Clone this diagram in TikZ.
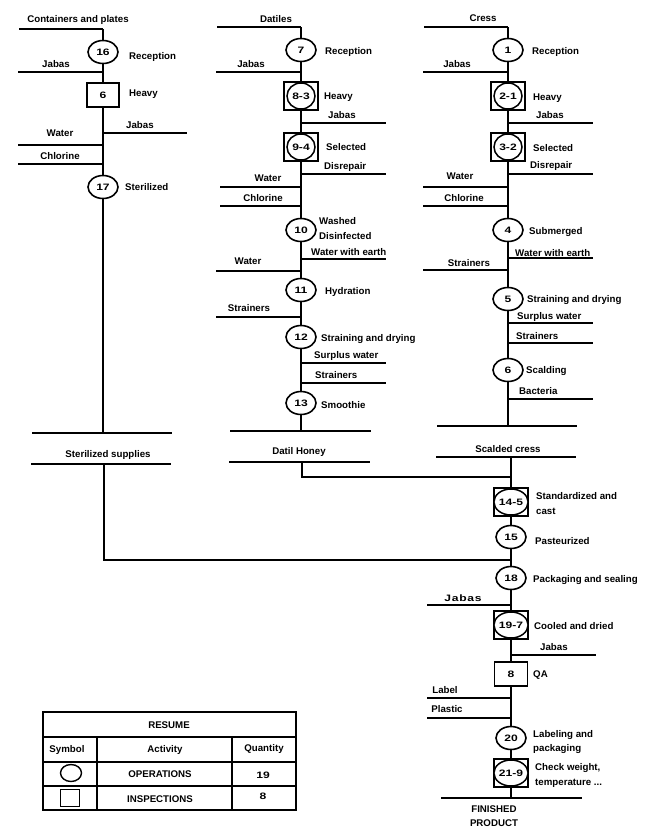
\documentclass[tikz,border=0pt]{standalone}
\usepackage{fontspec}
\setmainfont{Liberation Sans}
\newfontfamily\numfont[FakeStretch=1.3]{Liberation Sans}
\newfontfamily\widefont[FakeStretch=1.3,LetterSpace=8]{Liberation Sans}
\usetikzlibrary{shapes.geometric}
\newcommand\flowbr[4]{\coordinate (#1l) at (#2,#4); \coordinate (#1r) at (#3,#4); \draw[branch] (#1l) -- (#1r);}
\begin{document}
\begin{tikzpicture}[x=1pt,y=-1pt,
  font=\fontsize{9.7}{11}\selectfont\bfseries,
  spine/.style={line width=1.8pt},
  branch/.style={line width=1.4pt},
  nfont/.style={font=\fontsize{9.3}{10}\selectfont\numfont\bfseries},
  op/.style={ellipse,draw,line width=1.6pt,fill=white,minimum width=30pt,minimum height=23pt,inner sep=0pt,nfont},
  insp/.style={rectangle,draw,line width=1.6pt,fill=white,minimum width=32pt,minimum height=24pt,inner sep=0pt,nfont},
  combobox/.style={rectangle,draw,line width=1.6pt,fill=white,minimum width=34pt,minimum height=28pt,inner sep=0pt},
  comboell/.style={ellipse,draw,line width=1.5pt,fill=white,minimum width=28pt,minimum height=26pt,inner sep=0pt,nfont},
  L/.style={anchor=base west,inner sep=0pt},
  C/.style={anchor=base,inner sep=0pt},
  tab/.style={line width=1.5pt}]
\useasboundingbox (0,0) rectangle (654,827);

% ---------- column 1 ----------
\flowbr{a0}{19}{103}{29}
\node[op] (n16) at (103,52) {16};
\node[insp] (b6) at (103,95) {6};
\node[op] (n17) at (103,187) {17};
\coordinate (a1) at (103,433);
\draw[spine] (a0r) -- (n16) -- (b6) -- (n17) -- (a1);
\flowbr{a2}{18}{103}{72}
\flowbr{a3}{103}{187}{133}
\flowbr{a4}{18}{103}{145}
\flowbr{a5}{18}{103}{164}
\flowbr{a6}{32}{172}{433}
\flowbr{a7}{31}{171}{464}
\coordinate (a8) at (104,464);
\coordinate (a9) at (104,560);
\coordinate (a10) at (511,560);
\draw[spine] (a8) -- (a9) -- (a10);
\node[C] (t101) at (78,23) {Containers and plates};
\node[L] (t102) at (129,59) {Reception};
\node[C] (t103) at (56,67) {Jabas};
\node[L] (t104) at (129,96) {Heavy};
\node[L] (t105) at (126,128) {Jabas};
\node[C] (t106) at (60,136) {Water};
\node[C] (t107) at (60,159) {Chlorine};
\node[L] (t108) at (125,190) {Sterilized};
\node[C] (t109) at (108,457) {Sterilized supplies};

% ---------- column 2 ----------
\flowbr{b0}{217}{301}{27}
\node[op] (n7) at (301,50) {7};
\node[combobox] (c83) at (301,96) {};
\node[comboell] (c83e) at (c83) {8-3};
\node[combobox] (c94) at (301,147) {};
\node[comboell] (c94e) at (c94) {9-4};
\node[op] (n10) at (301,230) {10};
\node[op] (n11) at (301,290) {11};
\node[op] (n12) at (301,337) {12};
\node[op] (n13) at (301,403) {13};
\coordinate (b1) at (301,431);
\draw[spine] (b0r) -- (n7) -- (c83) -- (c94) -- (n10) -- (n11) -- (n12) -- (n13) -- (b1);
\flowbr{b2}{216}{301}{72}
\flowbr{b3}{301}{386}{123}
\flowbr{b4}{301}{386}{174}
\flowbr{b5}{220}{301}{187}
\flowbr{b6}{220}{301}{206}
\flowbr{b7}{301}{386}{259}
\flowbr{b8}{216}{301}{271}
\flowbr{b9}{216}{301}{317}
\flowbr{b10}{301}{386}{363}
\flowbr{b11}{301}{386}{383}
\flowbr{b12}{230}{371}{431}
\flowbr{b13}{229}{370}{462}
\coordinate (b14) at (302,462);
\coordinate (b15) at (302,477);
\coordinate (b16) at (511,477);
\draw[spine] (b14) -- (b15) -- (b16);
\node[C] (t201) at (276,22) {Datiles};
\node[L] (t202) at (325,54) {Reception};
\node[C] (t203) at (251,67) {Jabas};
\node[L] (t204) at (324,99) {Heavy};
\node[L] (t205) at (328,118) {Jabas};
\node[L] (t206) at (326,150) {Selected};
\node[L] (t207) at (324,169) {Disrepair};
\node[C] (t208) at (268,181) {Water};
\node[C] (t209) at (263,201) {Chlorine};
\node[L] (t210) at (319,224) {Washed};
\node[L] (t211) at (319,239) {Disinfected};
\node[L] (t212) at (311,255) {Water with earth};
\node[C] (t213) at (248,264) {Water};
\node[L] (t214) at (325,294) {Hydration};
\node[C] (t215) at (249,311) {Strainers};
\node[L] (t216) at (321,341) {Straining and drying};
\node[L] (t217) at (314,358) {Surplus water};
\node[L] (t218) at (315,378) {Strainers};
\node[L] (t219) at (321,408) {Smoothie};
\node[C] (t220) at (299,454) {Datil Honey};

% ---------- column 3 ----------
\flowbr{c0}{424}{508}{27}
\node[op] (n1) at (508,50) {1};
\node[combobox] (c21) at (508,96) {};
\node[comboell] (c21e) at (c21) {2-1};
\node[combobox] (c32) at (508,147) {};
\node[comboell] (c32e) at (c32) {3-2};
\node[op] (n4) at (508,230) {4};
\node[op] (n5) at (508,299) {5};
\node[op] (n6) at (508,370) {6};
\coordinate (c1) at (508,426);
\draw[spine] (c0r) -- (n1) -- (c21) -- (c32) -- (n4) -- (n5) -- (n6) -- (c1);
\flowbr{c2}{423}{508}{72}
\flowbr{c3}{508}{593}{123}
\flowbr{c4}{508}{593}{174}
\flowbr{c5}{423}{508}{187}
\flowbr{c6}{423}{508}{206}
\flowbr{c7}{508}{593}{258}
\flowbr{c8}{423}{508}{270}
\flowbr{c9}{508}{593}{323}
\flowbr{c10}{508}{593}{343}
\flowbr{c11}{508}{593}{399}
\flowbr{c12}{437}{577}{426}
\flowbr{c13}{436}{576}{457}
\node[C] (t301) at (483,21) {Cress};
\node[L] (t302) at (532,54) {Reception};
\node[C] (t303) at (457,67) {Jabas};
\node[L] (t304) at (533,100) {Heavy};
\node[L] (t305) at (536,118) {Jabas};
\node[L] (t306) at (533,151) {Selected};
\node[L] (t307) at (530,168) {Disrepair};
\node[C] (t308) at (460,179) {Water};
\node[C] (t309) at (464,201) {Chlorine};
\node[L] (t310) at (529,234) {Submerged};
\node[L] (t311) at (515,256) {Water with earth};
\node[C] (t312) at (469,266) {Strainers};
\node[L] (t313) at (527,302) {Straining and drying};
\node[L] (t314) at (517,319) {Surplus water};
\node[L] (t315) at (516,339) {Strainers};
\node[L] (t316) at (526,373) {Scalding};
\node[L] (t317) at (519,394) {Bacteria};
\node[C] (t318) at (508,452) {Scalded cress};

% ---------- joint line ----------
\coordinate (d0) at (511,457);
\node[combobox] (c145) at (511,502) {};
\node[comboell] (c145e) at (c145) {14-5};
\node[op] (n15) at (511,537) {15};
\node[op] (n18) at (511,578) {18};
\node[combobox] (c197) at (511,625) {};
\node[comboell] (c197e) at (c197) {19-7};
\node[insp,minimum width=33pt] (b8) at (511,674) {8};
\node[op] (n20) at (511,738) {20};
\node[combobox] (c219) at (511,773) {};
\node[comboell] (c219e) at (c219) {21-9};
\coordinate (d2) at (511,798);
\draw[spine] (d0) -- (c145) -- (n15) -- (n18) -- (c197) -- (b8) -- (n20) -- (c219) -- (d2);
\flowbr{d3}{427}{511}{605}
\flowbr{d4}{511}{596}{655}
\flowbr{d5}{427}{511}{698}
\flowbr{d6}{427}{511}{718}
\flowbr{d7}{441}{582}{798}
\node[L] (t401) at (536,499) {Standardized and};
\node[L] (t402) at (536,514) {cast};
\node[L] (t403) at (535,544) {Pasteurized};
\node[L] (t404) at (533,582) {Packaging and sealing};
\node[C,font=\fontsize{9.3}{10}\selectfont\widefont\bfseries] (t405) at (463,601) {Jabas};
\node[L] (t406) at (534,629) {Cooled and dried};
\node[L] (t407) at (540,650) {Jabas};
\node[L] (t408) at (533,677) {QA};
\node[C] (t409) at (445,693) {Label};
\node[C] (t410) at (447,712) {Plastic};
\node[L] (t411) at (533,737) {Labeling and};
\node[L] (t412) at (533,751) {packaging};
\node[L] (t413) at (535,770) {Check weight,};
\node[L] (t414) at (535,785) {temperature ...};
\node[C] (t415) at (494,812) {FINISHED};
\node[C] (t416) at (494,826.5) {PRODUCT};

% ---------- resume table ----------
\draw[tab] (43,712) rectangle (296,810);
\draw[tab] (43,737) -- (296,737);
\draw[tab] (43,762) -- (296,762);
\draw[tab] (43,786) -- (296,786);
\draw[tab] (97,737) -- (97,810);
\draw[tab] (232,737) -- (232,810);
\node[C] (r1) at (169,728) {RESUME};
\node[C] (r2) at (67,752) {Symbol};
\node[C] (r3) at (165,752) {Activity};
\node[C] (r4) at (264,751) {Quantity};
\node[ellipse,draw,line width=1.4pt,minimum width=21pt,minimum height=17pt,inner sep=0pt] (r5) at (71,773) {};
\node[C] (r6) at (160,777) {OPERATIONS};
\node[C,nfont] (r7) at (263,778) {19};
\node[rectangle,draw,line width=1.4pt,minimum width=19pt,minimum height=17pt,inner sep=0pt] (r8) at (70,798) {};
\node[C] (r9) at (160,802) {INSPECTIONS};
\node[C,nfont] (r10) at (263,799) {8};
\end{tikzpicture}
\end{document}
